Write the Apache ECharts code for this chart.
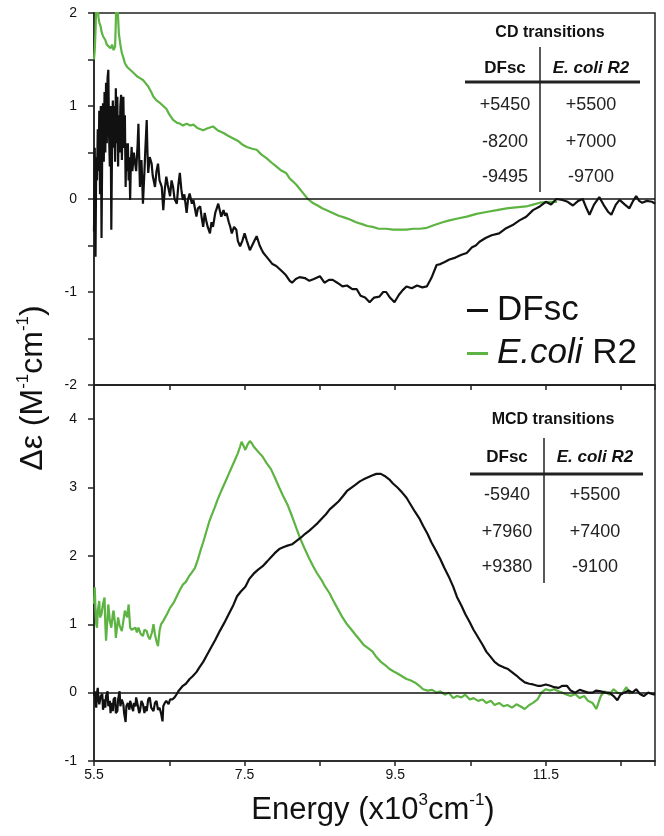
<!DOCTYPE html>
<html>
<head>
<meta charset="utf-8">
<script src="https://cdn.jsdelivr.net/npm/echarts@6/dist/echarts.min.js"></script>
<style>
html,body{margin:0;padding:0;background:#fff;}
#chart{width:664px;height:836px;}
</style>
</head>
<body>
<div id="chart"></div>
<script>
// ---------- data ----------
const seriesNames = ['DFsc', 'E.coli R2'];
const xTickLabels = ['5.5', '7.5', '9.5', '11.5'];
const cdTitle = 'CD transitions';
const mcdTitle = 'MCD transitions';
const tableHeaders = ['DFsc', 'E. coli R2'];
const cdDFscRows = ['+5450', '-8200', '-9495'];
const cdEcoliRows = ['+5500', '+7000', '-9700'];
const mcdDFscRows = ['-5940', '+7960', '+9380'];
const mcdEcoliRows = ['+5500', '+7400', '-9100'];

// CD (top panel), DFsc
const cdDFsc = [
[5.50,-0.35],[5.51,0.55],[5.52,-0.62],[5.53,0.45],[5.54,0.2],[5.55,0.75],[5.56,0.3],[5.57,0.95],[5.58,0.05],[5.59,1.0],
[5.60,-0.42],[5.61,0.6],[5.62,1.03],[5.63,0.4],[5.64,1.15],[5.65,0.5],[5.66,1.25],[5.67,0.6],[5.68,1.3],[5.69,1.39],
[5.70,0.7],[5.71,0.35],[5.72,1.0],[5.73,-0.33],[5.74,0.6],[5.75,1.06],[5.76,0.55],[5.77,1.0],[5.78,0.4],[5.79,1.19],
[5.80,0.6],[5.81,1.1],[5.82,0.35],[5.83,0.9],[5.84,0.5],[5.85,1.0],[5.86,1.12],[5.87,0.42],[5.88,0.8],[5.89,1.1],
[5.90,0.55],[5.91,0.9],[5.92,0.13],[5.93,0.6],[5.94,0.3],[5.95,0.6],[5.96,0.2],[5.97,0.45],[5.98,-0.01],[5.99,0.4],
[6.00,0.56],[6.01,0.3],[6.03,0.5],[6.04,0.42],[6.06,0.3],[6.08,0.6],[6.09,0.81],[6.10,0.45],[6.11,0.13],[6.12,0.3],
[6.13,0.42],[6.14,0.2],[6.15,-0.05],[6.17,0.3],[6.18,0.5],[6.20,0.85],[6.21,0.5],[6.22,0.28],[6.24,0.45],[6.265,0.38],
[6.28,0.25],[6.31,0.13],[6.33,0.3],[6.35,0.38],[6.37,0.2],[6.40,0.13],[6.42,-0.12],[6.44,0.1],[6.46,0.24],[6.48,0.15],
[6.51,0.03],[6.53,0.2],[6.55,0.13],[6.57,0.0],[6.60,-0.05],[6.62,0.15],[6.64,0.28],[6.66,0.1],[6.68,-0.01],[6.70,0.05],
[6.73,-0.15],[6.75,0.0],[6.77,0.06],[6.80,-0.05],[6.82,-0.01],[6.84,-0.1],[6.86,-0.19],[6.88,-0.1],[6.91,-0.08],[6.93,-0.2],
[6.95,-0.3],[6.97,-0.15],[6.99,-0.23],[7.01,-0.3],[7.04,-0.37],[7.06,-0.25],[7.08,-0.3],[7.11,-0.15],[7.13,-0.1],[7.15,-0.05],
[7.17,-0.12],[7.19,-0.19],[7.22,-0.12],[7.24,-0.18],[7.26,-0.15],[7.29,-0.25],[7.31,-0.3],[7.33,-0.37],[7.36,-0.3],[7.39,-0.33],
[7.41,-0.45],[7.44,-0.51],[7.47,-0.45],[7.50,-0.37],[7.53,-0.45],[7.57,-0.55],[7.60,-0.5],[7.63,-0.45],[7.66,-0.4],[7.70,-0.5],
[7.73,-0.55],[7.75,-0.58],[7.79,-0.62],[7.83,-0.66],[7.87,-0.7],[7.92,-0.72],[7.96,-0.75],[8.00,-0.78],[8.05,-0.82],[8.10,-0.88],
[8.13,-0.9],[8.18,-0.86],[8.23,-0.84],[8.30,-0.85],[8.36,-0.88],[8.42,-0.86],[8.50,-0.83],[8.56,-0.9],[8.62,-0.87],[8.67,-0.87],
[8.73,-0.9],[8.80,-0.94],[8.86,-0.93],[8.93,-0.97],[8.99,-0.97],[9.04,-1.04],[9.10,-1.06],[9.16,-1.11],[9.22,-1.06],[9.29,-1.05],
[9.34,-1.0],[9.38,-1.0],[9.43,-1.06],[9.49,-1.11],[9.55,-1.03],[9.60,-0.98],[9.65,-0.94],[9.72,-0.96],[9.79,-0.93],[9.86,-0.95],
[9.92,-0.94],[9.98,-0.85],[10.05,-0.71],[10.10,-0.7],[10.15,-0.68],[10.22,-0.65],[10.30,-0.63],[10.38,-0.6],[10.45,-0.58],[10.52,-0.52],
[10.57,-0.5],[10.62,-0.46],[10.70,-0.42],[10.78,-0.39],[10.88,-0.37],[10.96,-0.32],[11.06,-0.28],[11.15,-0.23],[11.24,-0.19],[11.33,-0.12],
[11.42,-0.08],[11.50,-0.03],[11.57,-0.06],[11.64,0.0],[11.72,-0.01],[11.79,-0.03],[11.86,-0.07],[11.93,-0.02],[11.99,0.0],[12.04,-0.1],
[12.08,-0.17],[12.14,-0.06],[12.21,0.02],[12.28,-0.08],[12.33,-0.14],[12.37,-0.17],[12.43,-0.06],[12.48,-0.01],[12.55,-0.06],[12.61,-0.1],
[12.66,-0.02],[12.70,0.03],[12.74,-0.02],[12.78,-0.04],[12.84,-0.02],[12.91,-0.03],[12.95,-0.05]
];

// CD (top panel), E. coli R2
const cdEcoli = [
[5.50,1.5],[5.51,1.6],[5.52,1.8],[5.53,2.1],[5.54,2.3],[5.55,2.05],[5.56,1.95],[5.57,1.9],[5.59,1.85],[5.60,1.8],
[5.62,1.75],[5.65,1.71],[5.67,1.66],[5.69,1.64],[5.72,1.62],[5.74,1.66],[5.76,1.6],[5.78,1.64],[5.79,1.9],[5.80,2.3],
[5.81,2.2],[5.82,1.95],[5.83,1.78],[5.85,1.66],[5.87,1.57],[5.89,1.52],[5.91,1.46],[5.94,1.42],[5.98,1.39],[6.02,1.36],
[6.07,1.32],[6.11,1.3],[6.15,1.28],[6.19,1.24],[6.22,1.21],[6.26,1.15],[6.29,1.1],[6.33,1.06],[6.38,1.03],[6.42,1.0],
[6.46,0.97],[6.50,0.91],[6.55,0.85],[6.60,0.82],[6.64,0.81],[6.68,0.79],[6.73,0.81],[6.78,0.79],[6.82,0.8],[6.88,0.76],
[6.95,0.74],[7.01,0.76],[7.08,0.78],[7.14,0.74],[7.22,0.71],[7.28,0.68],[7.35,0.65],[7.42,0.62],[7.48,0.58],[7.53,0.56],
[7.60,0.54],[7.66,0.53],[7.72,0.48],[7.79,0.44],[7.86,0.39],[7.92,0.35],[7.98,0.31],[8.05,0.28],[8.10,0.22],[8.14,0.19],
[8.19,0.15],[8.23,0.11],[8.28,0.06],[8.34,0.0],[8.40,-0.04],[8.47,-0.07],[8.53,-0.1],[8.59,-0.12],[8.67,-0.15],[8.75,-0.18],
[8.83,-0.2],[8.90,-0.22],[8.98,-0.25],[9.06,-0.27],[9.13,-0.29],[9.20,-0.3],[9.28,-0.32],[9.38,-0.32],[9.47,-0.33],[9.56,-0.33],
[9.65,-0.33],[9.74,-0.32],[9.83,-0.32],[9.92,-0.31],[10.02,-0.28],[10.13,-0.25],[10.22,-0.23],[10.33,-0.21],[10.45,-0.19],[10.58,-0.16],
[10.71,-0.14],[10.85,-0.12],[10.98,-0.1],[11.10,-0.09],[11.24,-0.08],[11.33,-0.06],[11.42,-0.04],[11.55,-0.03],[11.65,-0.03]
];

// MCD (bottom panel), DFsc
const mcdDFsc = [
[5.50,-0.05],[5.51,0.02],[5.52,-0.15],[5.53,-0.22],[5.54,0.0],[5.55,0.07],[5.56,-0.1],[5.57,-0.17],[5.59,-0.05],[5.61,-0.02],
[5.62,-0.25],[5.64,-0.1],[5.65,-0.22],[5.66,-0.05],[5.68,0.02],[5.69,-0.2],[5.71,-0.12],[5.72,-0.3],[5.73,-0.15],[5.75,-0.27],
[5.76,-0.1],[5.78,-0.07],[5.79,-0.3],[5.81,-0.27],[5.82,-0.1],[5.84,0.02],[5.85,-0.2],[5.87,-0.1],[5.89,-0.17],[5.90,-0.3],
[5.92,-0.43],[5.93,-0.2],[5.95,-0.15],[5.97,-0.25],[5.98,-0.12],[6.00,-0.2],[6.02,-0.27],[6.03,-0.15],[6.05,-0.2],[6.06,-0.07],
[6.08,-0.18],[6.10,-0.3],[6.11,-0.27],[6.13,-0.12],[6.15,-0.17],[6.17,-0.3],[6.18,-0.2],[6.20,-0.27],[6.22,-0.1],[6.24,-0.07],
[6.26,-0.22],[6.29,-0.27],[6.31,-0.15],[6.33,-0.12],[6.35,-0.25],[6.37,-0.22],[6.39,-0.3],[6.41,-0.42],[6.42,-0.2],[6.44,-0.15],
[6.46,-0.12],[6.49,-0.17],[6.51,-0.1],[6.54,-0.1],[6.57,-0.07],[6.60,-0.02],[6.62,0.02],[6.65,0.06],[6.68,0.1],[6.72,0.13],
[6.77,0.2],[6.81,0.24],[6.86,0.3],[6.90,0.37],[6.95,0.45],[7.00,0.55],[7.06,0.67],[7.11,0.77],[7.17,0.9],[7.23,1.02],
[7.29,1.15],[7.35,1.28],[7.40,1.41],[7.45,1.48],[7.51,1.55],[7.56,1.66],[7.62,1.74],[7.68,1.8],[7.74,1.85],[7.80,1.92],
[7.85,1.98],[7.90,2.04],[7.96,2.1],[8.02,2.13],[8.07,2.15],[8.13,2.17],[8.19,2.22],[8.25,2.27],[8.30,2.32],[8.36,2.37],
[8.41,2.42],[8.47,2.48],[8.52,2.54],[8.58,2.61],[8.63,2.68],[8.69,2.74],[8.75,2.8],[8.81,2.88],[8.86,2.95],[8.92,3.0],
[8.97,3.04],[9.03,3.09],[9.08,3.12],[9.14,3.15],[9.20,3.18],[9.25,3.2],[9.31,3.2],[9.36,3.17],[9.42,3.12],[9.47,3.06],
[9.53,3.0],[9.59,2.93],[9.65,2.85],[9.70,2.76],[9.76,2.65],[9.82,2.55],[9.87,2.44],[9.93,2.32],[9.98,2.2],[10.04,2.08],
[10.10,1.95],[10.15,1.83],[10.21,1.7],[10.27,1.55],[10.32,1.4],[10.38,1.27],[10.43,1.15],[10.49,1.03],[10.54,0.92],[10.60,0.81],
[10.66,0.7],[10.71,0.6],[10.77,0.52],[10.82,0.45],[10.88,0.4],[10.94,0.37],[10.99,0.35],[11.05,0.3],[11.11,0.25],[11.16,0.2],
[11.22,0.15],[11.28,0.13],[11.33,0.12],[11.39,0.1],[11.44,0.1],[11.50,0.12],[11.56,0.1],[11.61,0.08],[11.67,0.07],[11.72,0.1],
[11.78,0.1],[11.83,0.03],[11.89,0.0],[11.95,0.04],[12.01,0.02],[12.06,0.0],[12.12,0.0],[12.17,0.03],[12.23,0.02],[12.29,0.0],
[12.34,0.0],[12.40,-0.05],[12.45,-0.11],[12.49,-0.03],[12.54,0.0],[12.60,0.03],[12.65,0.0],[12.70,0.05],[12.75,-0.02],[12.80,-0.05],
[12.86,0.0],[12.91,-0.02],[12.95,-0.03]
];

// MCD (bottom panel), E. coli R2
const mcdEcoli = [
[5.50,1.3],[5.51,1.54],[5.52,1.2],[5.53,1.0],[5.54,0.95],[5.55,1.2],[5.57,1.34],[5.58,1.1],[5.60,1.15],[5.62,1.3],
[5.64,1.39],[5.65,1.0],[5.66,0.76],[5.68,1.1],[5.69,1.29],[5.71,1.05],[5.73,0.95],[5.75,1.15],[5.76,1.2],[5.78,1.0],
[5.79,0.8],[5.81,1.0],[5.82,1.1],[5.84,0.98],[5.87,0.9],[5.89,1.05],[5.91,1.2],[5.94,1.1],[5.96,1.29],[5.98,0.95],
[6.00,0.92],[6.02,0.9],[6.05,0.95],[6.07,0.88],[6.09,0.95],[6.12,0.86],[6.15,0.83],[6.17,0.92],[6.20,0.9],[6.22,0.82],
[6.24,0.78],[6.27,0.88],[6.29,1.0],[6.31,0.85],[6.33,0.75],[6.35,0.68],[6.37,0.9],[6.39,1.0],[6.42,1.05],[6.47,1.15],
[6.51,1.24],[6.56,1.32],[6.60,1.41],[6.64,1.5],[6.68,1.58],[6.72,1.62],[6.76,1.7],[6.80,1.76],[6.84,1.82],[6.88,1.95],
[6.92,2.1],[6.95,2.2],[6.99,2.35],[7.03,2.5],[7.06,2.59],[7.10,2.7],[7.14,2.82],[7.17,2.9],[7.21,3.0],[7.25,3.1],
[7.29,3.2],[7.33,3.3],[7.37,3.4],[7.41,3.5],[7.44,3.6],[7.46,3.67],[7.49,3.6],[7.51,3.55],[7.54,3.63],[7.57,3.68],
[7.60,3.64],[7.62,3.6],[7.66,3.55],[7.70,3.5],[7.74,3.45],[7.79,3.36],[7.85,3.27],[7.90,3.15],[7.96,3.0],[8.01,2.88],
[8.07,2.75],[8.13,2.58],[8.19,2.4],[8.24,2.25],[8.30,2.1],[8.35,1.98],[8.41,1.85],[8.46,1.75],[8.52,1.65],[8.57,1.55],
[8.63,1.45],[8.69,1.32],[8.75,1.2],[8.80,1.1],[8.86,1.0],[8.92,0.92],[8.97,0.85],[9.03,0.77],[9.08,0.7],[9.14,0.65],
[9.20,0.6],[9.25,0.52],[9.31,0.45],[9.37,0.4],[9.42,0.35],[9.48,0.31],[9.53,0.28],[9.59,0.24],[9.65,0.2],[9.70,0.18],
[9.76,0.15],[9.82,0.1],[9.87,0.05],[9.93,0.03],[9.99,0.04],[10.05,0.0],[10.10,0.02],[10.16,-0.03],[10.21,0.0],[10.27,-0.08],
[10.32,-0.05],[10.38,-0.07],[10.43,-0.03],[10.49,-0.1],[10.54,-0.08],[10.60,-0.12],[10.66,-0.1],[10.71,-0.15],[10.77,-0.12],[10.82,-0.18],
[10.88,-0.15],[10.94,-0.2],[10.99,-0.18],[11.05,-0.22],[11.11,-0.17],[11.16,-0.2],[11.22,-0.24],[11.28,-0.18],[11.33,-0.15],[11.39,-0.1],
[11.44,0.0],[11.50,0.05],[11.56,0.03],[11.61,0.05],[11.67,0.02],[11.72,0.0],[11.78,-0.03],[11.83,-0.05],[11.89,-0.02],[11.95,-0.08],
[12.01,-0.05],[12.06,-0.12],[12.12,-0.15],[12.17,-0.24],[12.23,-0.05],[12.28,0.02],[12.34,-0.03],[12.40,0.05],[12.45,0.0],[12.51,-0.02],
[12.57,0.08],[12.62,-0.02]
];

// ---------- chart ----------
const FONT = '"Liberation Sans", Arial, Helvetica, sans-serif';
const BLACK = '#111111';
const GREEN = '#5db443';
const chart = echarts.init(document.getElementById('chart'), null, {renderer: 'canvas'});

const L = 94, R = 9;
const grids = [
  {left: L, right: R, top: 13, height: 372, show: true, borderColor: '#222', borderWidth: 1.5},
  {left: L, right: R, top: 385, height: 376, show: true, borderColor: '#222', borderWidth: 1.5}
];

function xAxisFor(i, showLabels) {
  return {
    type: 'value', gridIndex: i, min: 5.5, max: 12.95, interval: 1,
    axisLine: {show: true, onZero: false, lineStyle: {color: '#222', width: 1.5}},
    axisTick: {show: true, inside: false, length: 5, lineStyle: {color: '#222', width: 1.5}},
    splitLine: {show: false},
    axisLabel: {
      show: showLabels, margin: 7, fontSize: 14, fontFamily: FONT, color: '#111',
      formatter: v => { const s = String(Math.round(v * 10) / 10); return xTickLabels.includes(s) ? s : ''; }
    }
  };
}
function yAxisFor(i, min, max, interval) {
  return {
    type: 'value', gridIndex: i, min: min, max: max, interval: interval,
    axisLine: {show: true, onZero: false, lineStyle: {color: '#222', width: 1.5}},
    axisTick: {show: true, inside: false, length: 6, lineStyle: {color: '#222', width: 1.5}},
    splitLine: {show: false},
    axisLabel: {
      margin: 17, fontSize: 14, fontFamily: FONT, color: '#111',
      formatter: v => Math.abs(v - Math.round(v)) < 1e-6 ? String(Math.round(v)) : ''
    }
  };
}

const zeroLine = {
  silent: true, symbol: ['none', 'none'], label: {show: false},
  lineStyle: {color: '#111', width: 1.6, type: 'solid'},
  emphasis: {disabled: true},
  data: [{yAxis: 0}]
};

function lineSeries(name, data, color, xi, withZero) {
  const s = {
    name: name, type: 'line', data: data, xAxisIndex: xi, yAxisIndex: xi,
    showSymbol: false, symbol: 'none', smooth: false, clip: true,
    lineStyle: {color: color, width: 2.2}, itemStyle: {color: color},
    emphasis: {disabled: true}, animation: false, z: 3
  };
  if (withZero) s.markLine = zeroLine;
  return s;
}

// table graphics built from the table arrays
function tableGraphics(title, titleY, headerY, lineY, vX, vTop, vBottom, hLeft, hRight, colX, rowYs, col1, col2) {
  const els = [];
  els.push({type: 'text', x: (colX[0] + colX[1]) / 2 + 2, y: titleY, style: {text: title, font: 'bold 16px ' + FONT, fill: '#111', align: 'center', verticalAlign: 'middle'}});
  els.push({type: 'text', x: colX[0], y: headerY, style: {text: tableHeaders[0], font: 'bold 17px ' + FONT, fill: '#111', align: 'center', verticalAlign: 'middle'}});
  els.push({type: 'text', x: colX[1], y: headerY, style: {text: tableHeaders[1], font: 'italic bold 17px ' + FONT, fill: '#111', align: 'center', verticalAlign: 'middle'}});
  els.push({type: 'line', shape: {x1: hLeft, y1: lineY, x2: hRight, y2: lineY}, style: {stroke: '#222', lineWidth: 3}});
  els.push({type: 'line', shape: {x1: vX, y1: vTop, x2: vX, y2: vBottom}, style: {stroke: '#222', lineWidth: 1.5}});
  rowYs.forEach((y, k) => {
    els.push({type: 'text', x: colX[0], y: y, style: {text: col1[k], font: '18px ' + FONT, fill: '#222', align: 'center', verticalAlign: 'middle'}});
    els.push({type: 'text', x: colX[1], y: y, style: {text: col2[k], font: '18px ' + FONT, fill: '#222', align: 'center', verticalAlign: 'middle'}});
  });
  return els;
}

const graphics = [].concat(
  tableGraphics(cdTitle, 33, 68, 82, 540, 47, 192, 465, 640, [505, 591], [105, 142, 177], cdDFscRows, cdEcoliRows),
  tableGraphics(mcdTitle, 420, 457, 474, 544, 438, 583, 470, 643, [507, 595], [495, 532, 567], mcdDFscRows, mcdEcoliRows),
  [
    {type: 'text', x: 31, y: 388, rotation: Math.PI / 2,
      style: {text: '{a|Δε (M}{s|-1}{a|cm}{s|-1}{a|)}', align: 'center', verticalAlign: 'middle',
        rich: {a: {fontSize: 32, fontFamily: FONT, fill: '#111', lineHeight: 36, verticalAlign: 'bottom'},
               s: {fontSize: 17, fontFamily: FONT, fill: '#111', lineHeight: 36, verticalAlign: 'top', padding: [2, 0, 0, 0]}}}},
    {type: 'text', x: 373, y: 808,
      style: {text: '{a|Energy (x10}{s|3}{a|cm}{s|-1}{a|)}', align: 'center', verticalAlign: 'middle',
        rich: {a: {fontSize: 31, fontFamily: FONT, fill: '#111', lineHeight: 36, verticalAlign: 'bottom'},
               s: {fontSize: 17, fontFamily: FONT, fill: '#111', lineHeight: 36, verticalAlign: 'top', padding: [2, 0, 0, 0]}}}}
  ]
);

const option = {
  backgroundColor: '#ffffff',
  animation: false,
  grid: grids,
  xAxis: [xAxisFor(0, false), xAxisFor(1, true)],
  yAxis: [yAxisFor(0, -2, 2, 0.5), yAxisFor(1, -1, 4.5, 1)],
  legend: {
    orient: 'vertical', left: 462, top: 287, itemWidth: 21, itemHeight: 3, icon: 'rect', itemGap: 6,
    selectedMode: false, data: seriesNames,
    formatter: n => n === 'E.coli R2' ? '{i|E.coli} R2' : n,
    textStyle: {fontSize: 35, fontFamily: FONT, color: '#111', lineHeight: 37, padding: [0, 0, 0, 4],
      rich: {i: {fontSize: 35, fontFamily: FONT, fontStyle: 'italic', color: '#111', lineHeight: 37}}}
  },
  series: [
    lineSeries(seriesNames[1], cdEcoli, GREEN, 0, false),
    lineSeries(seriesNames[0], cdDFsc, BLACK, 0, true),
    lineSeries(seriesNames[1], mcdEcoli, GREEN, 1, false),
    lineSeries(seriesNames[0], mcdDFsc, BLACK, 1, true)
  ],
  graphic: graphics
};
chart.setOption(option);
</script>
</body>
</html>
